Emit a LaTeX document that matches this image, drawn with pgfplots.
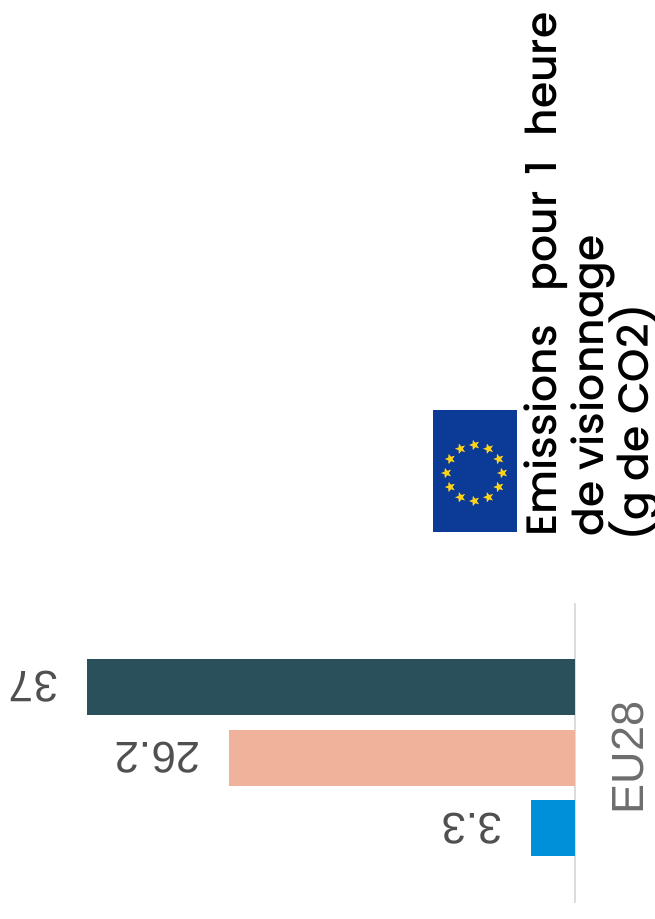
\documentclass[border=0pt]{standalone}
\usepackage{fontspec}
\setmainfont{Liberation Sans}
\newfontfamily\headfont{Poppins Medium}
\usepackage{pgfplots}
\pgfplotsset{compat=1.18}
\usetikzlibrary{shapes.geometric,calc}
\definecolor{barstream}{HTML}{2A515B}
\definecolor{barcloud}{HTML}{F0B29A}
\definecolor{barnet}{HTML}{0090DA}
\definecolor{axisgray}{HTML}{DCDCDC}
\definecolor{catgray}{HTML}{6E6E6E}
\definecolor{valgray}{HTML}{505050}
\definecolor{flagblue}{HTML}{0B3A97}
\definecolor{flagstar}{HTML}{FFD21A}
\begin{document}
\begin{tikzpicture}[x=1pt,y=1pt]
  \path[use as bounding box,clip] (0,0) rectangle (654,919);

  % flag of the European Union, on its side
  \fill[flagblue] (433,387) rectangle (517,509);
  \foreach \a in {0,30,...,330}
    \node[star,star points=5,star point ratio=2.4,fill=flagstar,draw=none,
          minimum size=11pt,inner sep=0pt,rotate=90]
      at ($(474.5,446)+(\a:28)$) {};

  % heading, rotated a quarter turn
  \begin{scope}[every node/.style={rotate=90,anchor=base west,inner sep=0pt,text=black}]
    \node at (556,382) {\headfont\fontsize{42.5}{43}\selectfont Emissions\hspace{34pt}pour\hspace{16pt}1\hspace{24pt}heure};
    \node at (603,382) {\headfont\fontsize{42.5}{43}\selectfont de visionnage};
    \node at (648,377) {\headfont\fontsize{42.5}{43}\selectfont (g de CO2)};
  \end{scope}

  \begin{axis}[
      at={(0,16)},anchor=south west,
      scale only axis,width=575pt,height=300pt,
      x dir=reverse,
      xmin=0,xmax=43.6,
      ymin=-145,ymax=155,
      axis y line=right,
      axis x line=none,
      y axis line style={draw=axisgray,line width=2.5pt,-},
      ytick={0},yticklabels={EU28},
      major tick length=0pt,
      yticklabel style={rotate=90,font=\fontsize{45}{45}\selectfont,
                        text=catgray,inner sep=0pt,yshift=-37pt},
      xbar,bar width=56pt,
      nodes near coords,
      point meta=x,
      nodes near coords style={rotate=180,anchor=west,inner sep=0pt,xshift=28.5pt,
        font=\fontsize{44}{44}\selectfont,text=valgray,
        /pgf/number format/assume math mode=true,
        /pgf/number format/precision=1},
    ]
    \addplot[fill=barstream,draw=none,bar shift=71pt] coordinates {(37,0)};
    \addplot[fill=barcloud,draw=none,bar shift=0pt] coordinates {(26.2,0)};
    \addplot[fill=barnet,draw=none,bar shift=-70.5pt] coordinates {(3.3,0)};
  \end{axis}
\end{tikzpicture}
\end{document}
